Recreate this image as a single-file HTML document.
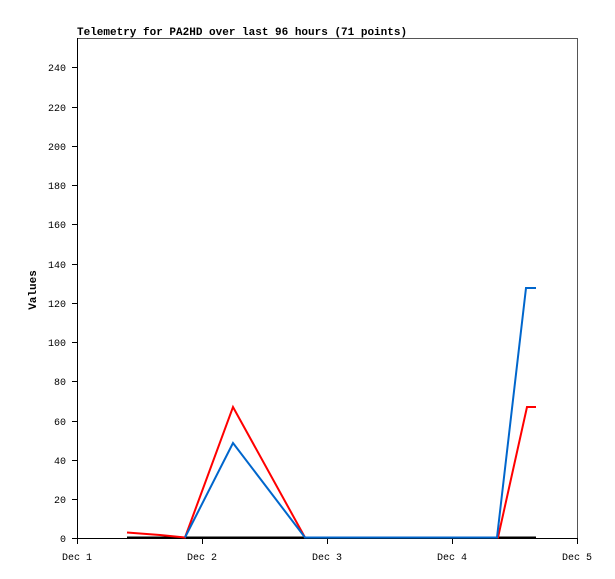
<!DOCTYPE html>
<html><head><style>body{margin:0;background:#fff}svg{display:block}</style></head><body>
<svg width="615" height="579" xmlns="http://www.w3.org/2000/svg" font-family="Liberation Mono, monospace" font-size="11">
<rect width="615" height="579" fill="#fff"/>
<text x="77" y="35" font-weight="bold" font-size="11">Telemetry for PA2HD over last 96 hours (71 points)</text>
<rect x="77.5" y="38.5" width="500" height="500" fill="none" stroke="#555"/>
<line x1="77.5" y1="38" x2="77.5" y2="539" stroke="#000"/>
<line x1="77" y1="538.5" x2="577" y2="538.5" stroke="#000"/>
<g stroke="#000">
<line x1="72" y1="538.5" x2="77" y2="538.5"/><line x1="72" y1="499.5" x2="77" y2="499.5"/><line x1="72" y1="460.5" x2="77" y2="460.5"/><line x1="72" y1="421.5" x2="77" y2="421.5"/><line x1="72" y1="381.5" x2="77" y2="381.5"/><line x1="72" y1="342.5" x2="77" y2="342.5"/><line x1="72" y1="303.5" x2="77" y2="303.5"/><line x1="72" y1="264.5" x2="77" y2="264.5"/><line x1="72" y1="224.5" x2="77" y2="224.5"/><line x1="72" y1="185.5" x2="77" y2="185.5"/><line x1="72" y1="146.5" x2="77" y2="146.5"/><line x1="72" y1="107.5" x2="77" y2="107.5"/><line x1="72" y1="67.5" x2="77" y2="67.5"/>
<line x1="77.5" y1="538" x2="77.5" y2="544"/><line x1="202.5" y1="538" x2="202.5" y2="544"/><line x1="327.5" y1="538" x2="327.5" y2="544"/><line x1="452.5" y1="538" x2="452.5" y2="544"/><line x1="577.5" y1="538" x2="577.5" y2="544"/>
</g>
<g text-anchor="end" font-size="10">
<text x="66" y="542">0</text><text x="66" y="503">20</text><text x="66" y="464">40</text><text x="66" y="425">60</text><text x="66" y="385">80</text><text x="66" y="346">100</text><text x="66" y="307">120</text><text x="66" y="268">140</text><text x="66" y="228">160</text><text x="66" y="189">180</text><text x="66" y="150">200</text><text x="66" y="111">220</text><text x="66" y="71">240</text>
</g>
<g text-anchor="middle" font-size="10">
<text x="77" y="560">Dec 1</text><text x="202" y="560">Dec 2</text><text x="327" y="560">Dec 3</text><text x="452" y="560">Dec 4</text><text x="577" y="560">Dec 5</text>
</g>
<text transform="translate(36,290) rotate(-90)" text-anchor="middle" font-weight="bold" font-size="11">Values</text>
<polyline fill="none" stroke="#000" stroke-width="2" points="127,537.5 536,537.5"/>
<polyline fill="none" stroke="#f00" stroke-width="2" points="127,532.5 140,533.5 160,535 180,537 185,537.5 233,407 305,537.5 498,537.5 527,407 536,407"/>
<polyline fill="none" stroke="#0066cc" stroke-width="2" points="185,537.5 233,443 305,537.5 497,537.5 526,288 536,288"/>
</svg>
</body></html>
